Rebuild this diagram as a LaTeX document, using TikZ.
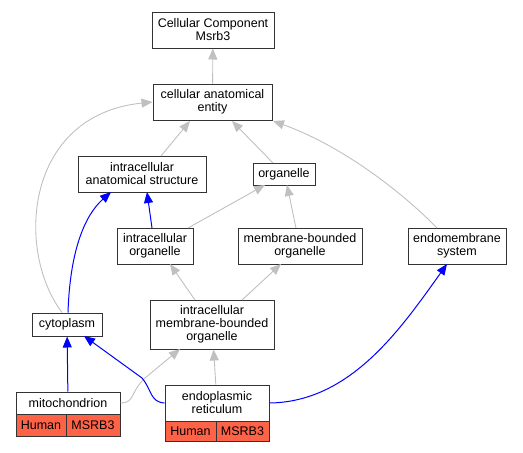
\documentclass[tikz,border=0pt]{standalone}
\usepackage{fontspec}
\setmainfont{Liberation Sans}
\usepackage{tikz}
\usetikzlibrary{arrows.meta}
\definecolor{isagray}{HTML}{C0C0C0}
\definecolor{hitred}{HTML}{FF6347}

\begin{document}
\begin{tikzpicture}[x=1pt,y=-1pt,
    term/.style={draw=black!80, line width=1pt, fill=white, align=center, inner sep=0pt,
        font=\fontsize{12.5}{13}\selectfont},
    gene/.style={term, fill=hitred},
    isa/.style={draw=isagray, line width=0.9pt, -{Triangle[length=11pt,width=9pt]}},
    partof/.style={draw=blue, line width=1pt, -{Triangle[length=11pt,width=9pt]}}]
            \useasboundingbox (0,0) rectangle (523,453);
            % terms
            \node[term, minimum width=122pt, minimum height=36pt] (ccm) at (213,30) {Cellular Component\\Msrb3};
            \node[term, minimum width=119pt, minimum height=36pt] (cae) at (212.5,102) {cellular anatomical\\entity};
            \node[term, minimum width=128pt, minimum height=36pt] (ias) at (142,174) {intracellular\\anatomical structure};
            \node[term, minimum width=62pt, minimum height=22pt] (org) at (284,174) {organelle};
            \node[term, minimum width=76pt, minimum height=36pt] (io) at (155,246) {intracellular\\organelle};
            \node[term, minimum width=124pt, minimum height=36pt] (mbo) at (300,246) {membrane-bounded\\organelle};
            \node[term, minimum width=98pt, minimum height=36pt] (ems) at (457,246) {endomembrane\\system};
            \node[term, minimum width=70pt, minimum height=23pt] (cyto) at (67,324.5) {cytoplasm};
            \node[term, minimum width=124pt, minimum height=49pt] (imbo) at (212,324.5) {intracellular\\membrane-bounded\\organelle};
            % annotated terms
            \node[term, minimum width=104pt, minimum height=22pt] (mito) at (68,403) {mitochondrion};
            \node[gene, minimum width=50pt, minimum height=22pt] (mitoh) at (41,425) {Human};
            \node[gene, minimum width=54pt, minimum height=22pt] (mitog) at (93,425) {MSRB3};
            \node[term, minimum width=104pt, minimum height=36pt] (er) at (217,403) {endoplasmic\\reticulum};
            \node[gene, minimum width=51pt, minimum height=20pt] (erh) at (190.5,431) {Human};
            \node[gene, minimum width=53pt, minimum height=20pt] (erg) at (242.5,431) {MSRB3};
            % is_a
            \draw[isa] (cae) -- (ccm);
            \draw[isa] (161,156) -- (190,121);
            \draw[isa] (273,163) -- (232,121);
            \draw[isa] (437,228) .. controls (400,190) and (340,145) .. (273,121);
            \draw[isa] ([xshift=-5pt]cyto.north) .. controls (15,250) and (25,115) .. (cae.west);
            \draw[isa] (188,228) -- (265,185);
            \draw[isa] (296,228) -- (287,185);
            \draw[isa] (195,300) -- (170,264);
            \draw[isa] (242,300) -- (281,264);
            \draw[isa] (mito.east) .. controls (135,403) and (130,392) .. (145,378) -- (180,349);
            \draw[isa] (er) -- (imbo);
            % part_of
            \draw[partof] ([xshift=1pt]cyto.north) .. controls (70,250) and (85,215) .. (111,192);
            \draw[partof] (152,228) -- (147,192);
            \draw[partof] (mito) -- (cyto);
            \draw[partof] (er.west) .. controls (150,402) and (152,390) .. (142,378) -- (84,336);
            \draw[partof] (er.east) .. controls (350,402) and (400,330) .. (447,264);
\end{tikzpicture}
\end{document}
